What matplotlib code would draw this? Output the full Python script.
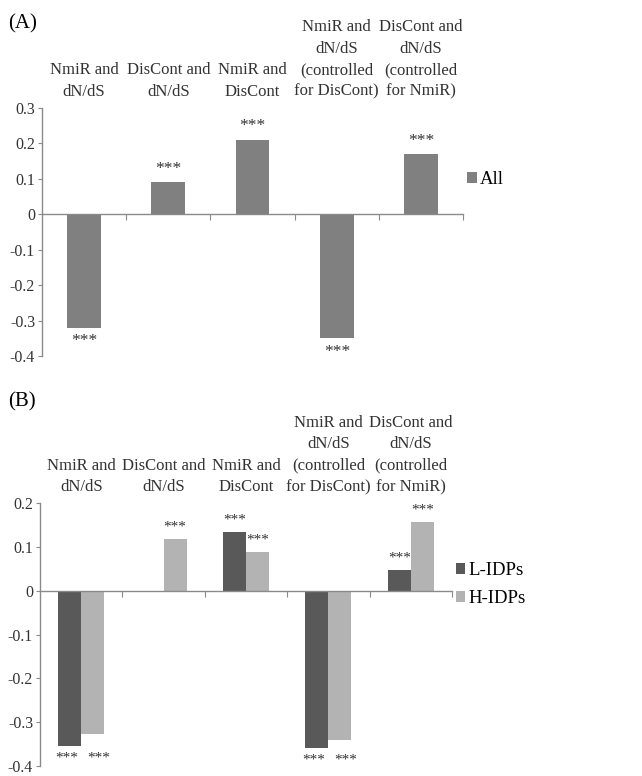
import numpy as np
import matplotlib
matplotlib.use('Agg')
import matplotlib.pyplot as plt

plt.rcParams['font.family'] = ['Liberation Serif', 'DejaVu Serif']

categories = ['NmiR and\ndN/dS', 'DisCont and\ndN/dS', 'NmiR and\nDisCont',
              'NmiR and\ndN/dS\n(controlled\nfor DisCont)',
              'DisCont and\ndN/dS\n(controlled\nfor NmiR)']

# panel A: all proteins
all_vals = [-0.32, 0.09, 0.21, -0.35, 0.17]
all_sig = ['***', '***', '***', '***', '***']

# panel B: low / high intrinsic disorder
l_idp = [-0.355, -0.002, 0.134, -0.36, 0.048]
h_idp = [-0.327, 0.119, 0.089, -0.341, 0.158]
l_sig = ['***', '', '***', '***', '***']
h_sig = ['***', '***', '***', '***', '***']

ticks_a = [0.3, 0.2, 0.1, 0, -0.1, -0.2, -0.3, -0.4]
ticks_b = [0.2, 0.1, 0, -0.1, -0.2, -0.3, -0.4]

axis_col = '#8a8a8a'
text_col = '#333333'


def style_axes(ax, ticks):
    ax.set_xlim(-0.5, 4.5)
    ax.set_ylim(min(ticks), max(ticks))
    ax.set_yticks(ticks)
    ax.set_yticklabels([('%g' % t) for t in ticks], fontsize=11.5, color=text_col)
    ax.spines['top'].set_visible(False)
    ax.spines['right'].set_visible(False)
    ax.spines['bottom'].set_position(('data', 0))
    for s in ['left', 'bottom']:
        ax.spines[s].set_color(axis_col)
        ax.spines[s].set_linewidth(1.0)
    ax.set_xticks(np.arange(0.5, 5, 1.0))
    ax.set_xticklabels([])
    ax.tick_params(axis='x', direction='out', length=4, color=axis_col)
    ax.tick_params(axis='y', direction='out', length=3, color=axis_col, pad=2)
    for i, c in enumerate(categories):
        ax.annotate(c, xy=(i, 1), xycoords=('data', 'axes fraction'),
                    xytext=(0, 6), textcoords='offset points',
                    ha='center', va='bottom', multialignment='center',
                    fontsize=12, linespacing=1.45, color=text_col)


def stars(ax, xs, vals, sig, neg_level=None, dx=0, size=12.5):
    for i, (x, v, s) in enumerate(zip(xs, vals, sig)):
        if not s:
            continue
        if v >= 0:
            ax.annotate(s, xy=(x, v), xytext=(0, 4), textcoords='offset points',
                        ha='center', va='bottom', fontsize=size, color=text_col)
        else:
            y = v if neg_level is None else neg_level[i]
            ax.annotate(s, xy=(x, y), xytext=(dx, -4), textcoords='offset points',
                        ha='center', va='top', fontsize=size, color=text_col)


fig = plt.figure(figsize=(6.42, 7.76), dpi=100)

axA = fig.add_axes([0.0654, 0.5412, 0.656, 0.3196])
x = np.arange(len(categories))
axA.bar(x, all_vals, width=0.4, color='#808080', label='All', zorder=2)
style_axes(axA, ticks_a)
stars(axA, x, all_vals, all_sig)
axA.legend(loc='center left', bbox_to_anchor=(1.01, 0.71), frameon=False,
           fontsize=13.5, handlelength=0.5, handleheight=0.5, handletextpad=0.15,
           borderpad=0, borderaxespad=0)
fig.text(0.012, 0.982, '(A)', fontsize=15, va='top', ha='left')

axB = fig.add_axes([0.0623, 0.0129, 0.6417, 0.3385])
w = 0.28
axB.bar(x - w / 2, l_idp, width=w, color='#595959', label='L-IDPs', zorder=2)
axB.bar(x + w / 2, h_idp, width=w, color='#b3b3b3', label='H-IDPs', zorder=2)
style_axes(axB, ticks_b)
low = np.minimum(l_idp, h_idp)
stars(axB, x - w / 2, l_idp, l_sig, neg_level=low, dx=-2, size=11)
stars(axB, x + w / 2, h_idp, h_sig, neg_level=low, dx=4, size=11)
axB.legend(loc='center left', bbox_to_anchor=(1.01, 0.69), frameon=False,
           fontsize=13.5, handlelength=0.5, handleheight=0.5, handletextpad=0.15,
           borderpad=0, borderaxespad=0, labelspacing=0.6)
fig.text(0.012, 0.495, '(B)', fontsize=15, va='top', ha='left')

fig.savefig('out.png', dpi=100)
